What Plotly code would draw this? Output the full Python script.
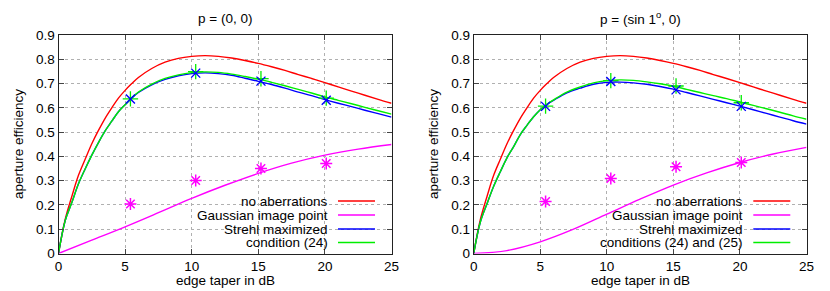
import plotly.graph_objects as go
from plotly.subplots import make_subplots

# ---------------- data ----------------
taper_x = [0, 0.5, 1, 1.5, 2, 2.5, 3, 3.5, 4, 4.5, 5, 5.5, 6, 7, 8, 9, 10, 11, 12,
           13, 14, 15, 16, 17, 18, 19, 20, 21, 22, 23, 24, 25]

no_aberr = [0, 0.14, 0.235, 0.322, 0.388, 0.452, 0.507, 0.557, 0.6, 0.64, 0.672, 0.7,
            0.725, 0.762, 0.788, 0.804, 0.812, 0.815, 0.812, 0.805, 0.795, 0.783,
            0.769, 0.754, 0.737, 0.721, 0.704, 0.686, 0.669, 0.652, 0.635, 0.619]

# left panel p = (0, 0)
green_L = [0, 0.135, 0.21, 0.287, 0.348, 0.405, 0.457, 0.505, 0.545, 0.584, 0.613, 0.641,
           0.665, 0.698, 0.721, 0.736, 0.745, 0.748, 0.746, 0.739, 0.729, 0.718,
           0.705, 0.691, 0.676, 0.661, 0.645, 0.631, 0.617, 0.602, 0.588, 0.574]
blue_L = [0, 0.135, 0.21, 0.287, 0.348, 0.405, 0.457, 0.505, 0.545, 0.584, 0.613, 0.64,
          0.663, 0.695, 0.717, 0.732, 0.741, 0.744, 0.741, 0.734, 0.722, 0.709,
          0.696, 0.681, 0.665, 0.65, 0.634, 0.619, 0.605, 0.59, 0.576, 0.562]
gauss_x = [0, 2.5, 5, 7.5, 10, 12.5, 15, 17.5, 20, 22.5, 25]
gauss_L = [0, 0.055, 0.11, 0.168, 0.227, 0.281, 0.33, 0.372, 0.405, 0.43, 0.449]

# right panel p = (sin 1°, 0)
green_R = [0, 0.13, 0.205, 0.277, 0.337, 0.394, 0.44, 0.49, 0.528, 0.563, 0.592, 0.615,
           0.633, 0.665, 0.686, 0.703, 0.712, 0.715, 0.713, 0.707, 0.699, 0.689,
           0.676, 0.663, 0.65, 0.638, 0.624, 0.61, 0.596, 0.582, 0.567, 0.553]
blue_R = [0, 0.13, 0.205, 0.277, 0.337, 0.394, 0.44, 0.49, 0.528, 0.563, 0.592, 0.614,
          0.631, 0.662, 0.681, 0.697, 0.705, 0.706, 0.703, 0.697, 0.688, 0.677,
          0.663, 0.649, 0.635, 0.621, 0.607, 0.592, 0.577, 0.562, 0.547, 0.533]
gauss_R = [0, 0.012, 0.048, 0.1, 0.162, 0.224, 0.282, 0.332, 0.375, 0.41, 0.437]

pts_x = [5.4, 10.3, 15.2, 20.1]
pts_green_L = [0.637, 0.749, 0.72, 0.64]
pts_blue_L = [0.636, 0.743, 0.71, 0.631]
pts_mag_L = [0.204, 0.301, 0.35, 0.371]
pts_green_R = [0.607, 0.712, 0.69, 0.621]
pts_blue_R = [0.606, 0.708, 0.674, 0.606]
pts_mag_R = [0.214, 0.309, 0.357, 0.375]

x_ticks = [0, 5, 10, 15, 20, 25]
y_ticks = [0, 0.1, 0.2, 0.3, 0.4, 0.5, 0.6, 0.7, 0.8, 0.9]
y_tick_text = ["0", "0.1", "0.2", "0.3", "0.4", "0.5", "0.6", "0.7", "0.8", "0.9"]

titles = ["p = (0, 0)", "p = (sin 1<sup>o</sup>, 0)"]
legend_L = ["no aberrations", "Gaussian image point", "Strehl maximized", "condition (24)"]
legend_R = ["no aberrations", "Gaussian image point", "Strehl maximized",
            "conditions (24) and (25)"]

RED, MAG, BLUE, GREEN = "#ff0000", "#ff00ff", "#0000ff", "#00ee00"
FONT = "Liberation Sans, Arial, sans-serif"
FS = 13.5
OFF = 8  # default page body margin
W, H = 830 - OFF, 291 - OFF

def px_x(p):
    return (p - OFF) / W

def px_y(p):
    return 1 - (p - OFF) / H

fig = make_subplots(rows=1, cols=2)

panels = [
    (1, green_L, blue_L, gauss_L, pts_green_L, pts_blue_L, pts_mag_L),
    (2, green_R, blue_R, gauss_R, pts_green_R, pts_blue_R, pts_mag_R),
]
lw = 1.4
for col, g, b, ga, pg, pb, pm in panels:
    fig.add_trace(go.Scatter(x=taper_x, y=no_aberr, mode="lines", line=dict(color=RED, width=lw, shape="spline"),
                             showlegend=False), row=1, col=col)
    fig.add_trace(go.Scatter(x=gauss_x, y=ga, mode="lines", line=dict(color=MAG, width=lw, shape="spline"),
                             showlegend=False), row=1, col=col)
    fig.add_trace(go.Scatter(x=taper_x, y=b, mode="lines", line=dict(color=BLUE, width=lw, shape="spline"),
                             showlegend=False), row=1, col=col)
    fig.add_trace(go.Scatter(x=taper_x, y=g, mode="lines", line=dict(color=GREEN, width=lw, shape="spline"),
                             showlegend=False), row=1, col=col)
    fig.add_trace(go.Scatter(x=pts_x, y=pg, mode="markers",
                             marker=dict(symbol="cross-thin", size=11, line=dict(color=GREEN, width=1.3)),
                             showlegend=False), row=1, col=col)
    fig.add_trace(go.Scatter(x=pts_x, y=pb, mode="markers",
                             marker=dict(symbol="x-thin", size=9, line=dict(color=BLUE, width=1.4)),
                             showlegend=False), row=1, col=col)
    fig.add_trace(go.Scatter(x=pts_x, y=pm, mode="markers",
                             marker=dict(symbol="asterisk", size=10, line=dict(color=MAG, width=1.5)),
                             showlegend=False), row=1, col=col)

dom_L = [px_x(58.5), px_x(391.5)]
dom_R = [px_x(473.7), px_x(806.5)]
dom_y = [px_y(253.5), px_y(35)]

axis_common = dict(showline=True, linecolor="#222", linewidth=1, mirror="ticks",
                   ticks="inside", ticklen=5, tickcolor="#444", tickwidth=1,
                   showgrid=True, gridcolor="#b0b0b0", gridwidth=1, griddash="dot",
                   zeroline=False, automargin=False,
                   tickfont=dict(family=FONT, size=FS, color="#000"))

fig.update_xaxes(range=[0, 25], tickvals=x_ticks, **axis_common)
fig.update_yaxes(range=[0, 0.9], tickvals=y_ticks, ticktext=y_tick_text, **axis_common)
fig.update_layout(xaxis=dict(domain=dom_L), xaxis2=dict(domain=dom_R),
                  yaxis=dict(domain=dom_y), yaxis2=dict(domain=dom_y))

ann = []
shapes = []
for i, (d, leg) in enumerate([(dom_L, legend_L), (dom_R, legend_R)]):
    cx = (d[0] + d[1]) / 2
    ann.append(dict(text=titles[i], x=cx, y=px_y(18), xref="paper", yref="paper",
                    showarrow=False, xanchor="center", yanchor="middle",
                    font=dict(family=FONT, size=FS, color="#000")))
    ann.append(dict(text="edge taper in dB", x=cx, y=px_y(280), xref="paper", yref="paper",
                    showarrow=False, xanchor="center", yanchor="middle",
                    font=dict(family=FONT, size=FS, color="#000")))
    ylab_x = 18 if i == 0 else 433
    ann.append(dict(text="aperture efficiency", x=px_x(ylab_x), y=px_y(144), xref="paper", yref="paper",
                    showarrow=False, textangle=-90, xanchor="center", yanchor="middle",
                    font=dict(family=FONT, size=FS, color="#000")))
    text_right = 330 if i == 0 else 745
    line_l = 338 if i == 0 else 753.3
    line_r = 375 if i == 0 else 790.3
    rows = [201, 215, 229, 242.5]
    for name, color, ry in zip(leg, [RED, MAG, BLUE, GREEN], rows):
        ann.append(dict(text=name, x=px_x(text_right), y=px_y(ry), xref="paper", yref="paper",
                        showarrow=False, xanchor="right", yanchor="middle",
                        font=dict(family=FONT, size=FS, color="#000")))
        shapes.append(dict(type="line", xref="paper", yref="paper",
                           x0=px_x(line_l), x1=px_x(line_r), y0=px_y(ry), y1=px_y(ry),
                           line=dict(color=color, width=1.4)))

fig.update_layout(width=W, height=H, margin=dict(l=0, r=0, t=0, b=0, autoexpand=False),
                  paper_bgcolor="white", plot_bgcolor="white",
                  annotations=ann, shapes=shapes, showlegend=False,
                  font=dict(family=FONT, size=FS, color="#000"))

fig.write_html("out.html")
